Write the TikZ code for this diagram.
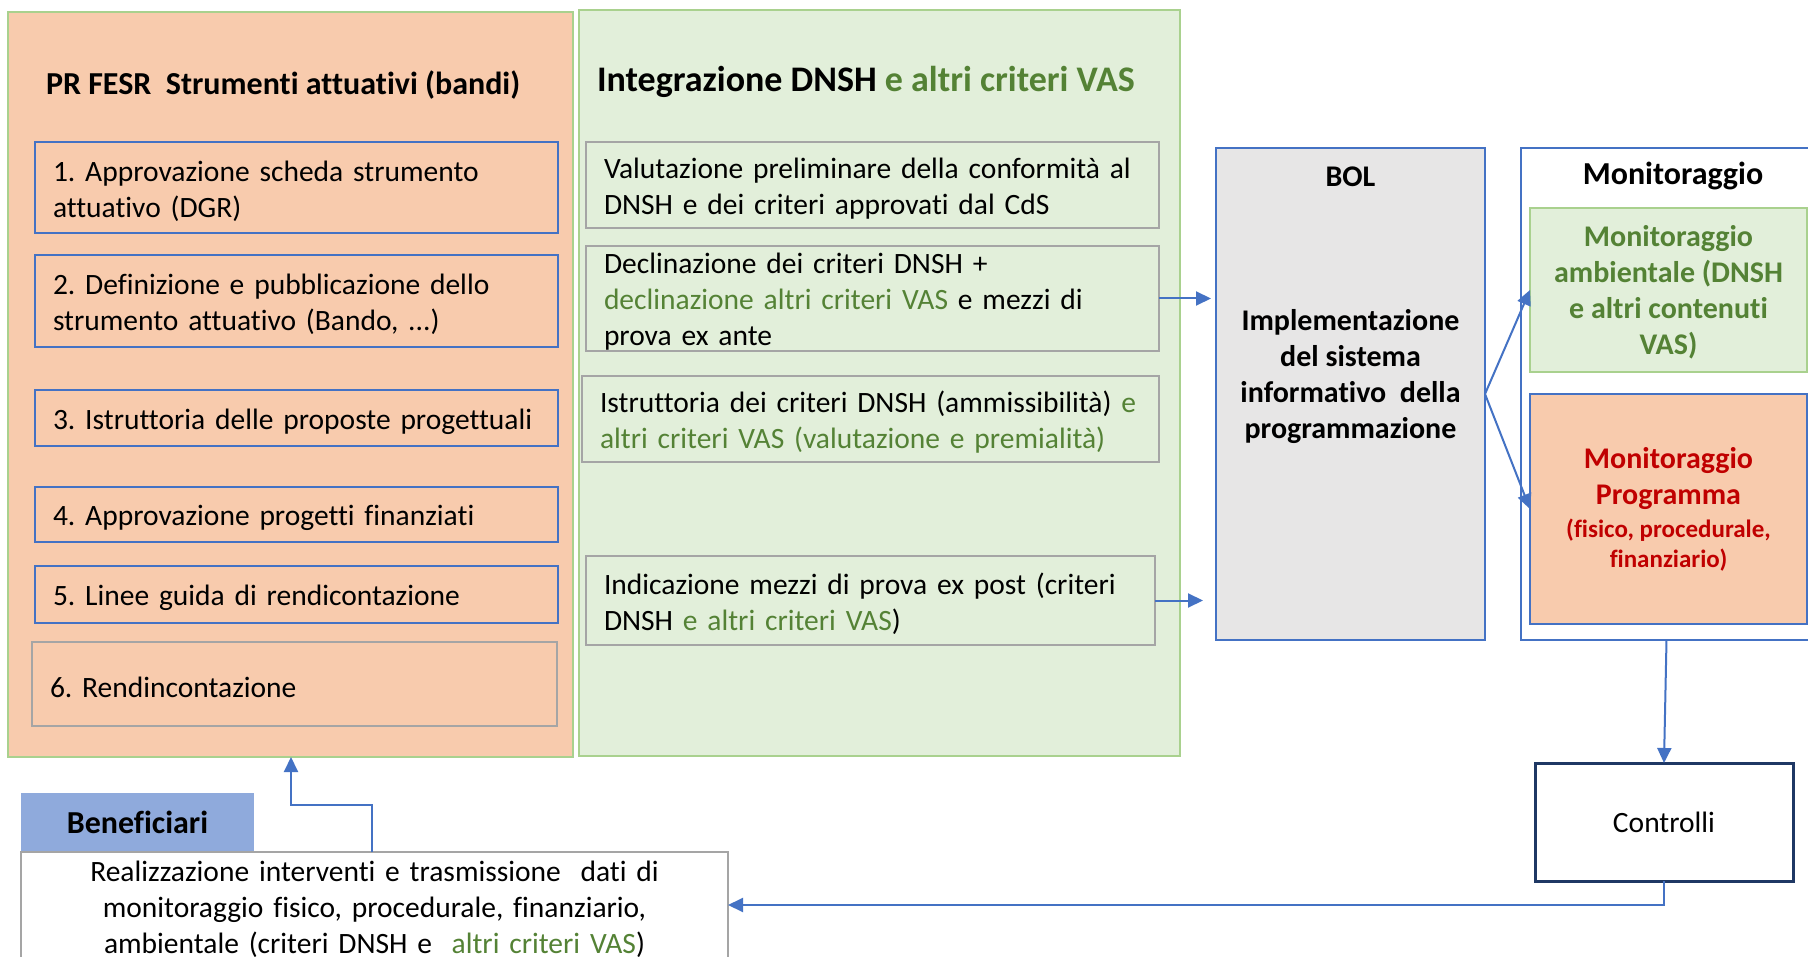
\documentclass[tikz,border=0pt]{standalone}
\usepackage{fontspec}
\setmainfont{Carlito}[Ligatures=NoCommon]
\usetikzlibrary{arrows.meta}
\definecolor{orfill}{HTML}{F8CBAD}
\definecolor{gfill}{HTML}{E2EFDA}
\definecolor{lgreen}{HTML}{A9D18E}
\definecolor{vgreen}{HTML}{548235}
\definecolor{myblue}{HTML}{4472C4}
\definecolor{mygray}{HTML}{A5A5A5}
\definecolor{myred}{HTML}{C00000}
\definecolor{bolgray}{HTML}{E7E6E6}
\definecolor{benblue}{HTML}{8FAADC}
\definecolor{navy}{HTML}{1F3864}
\newcommand{\fl}{\rule{0pt}{27.5pt}}
\begin{document}
\frenchspacing
\begin{tikzpicture}[x=1pt,y=-1pt,
  every node/.style={inner sep=0pt, outer sep=0pt},
  body/.style={font=\fontsize{29.5}{36}\selectfont},
  bodyb/.style={font=\fontsize{30}{36}\selectfont\bfseries},
  frame/.style={draw=lgreen, line width=1.5pt},
  bbox/.style={body, draw=myblue, line width=2pt, fill=orfill, inner xsep=18pt, align=left},
  gbox/.style={body, draw=mygray, line width=2pt, fill=gfill, inner xsep=18pt, align=left},
  arr/.style={draw=myblue, line width=2pt, -{Triangle[length=15pt,width=14pt]}}]
\clip (0,0) rectangle (1808,957);
\fill[white] (0,0) rectangle (1808,957);
% big frames
\node[frame, fill=orfill, minimum width=565pt, minimum height=745pt] (prfesr) at (290.5,384.5) {};
\node[frame, fill=gfill, minimum width=601pt, minimum height=746pt] (integ) at (879.5,383) {};
\node[anchor=west, font=\fontsize{32}{38}\selectfont\bfseries] (t1) at (46,85) {PR FESR\ \ Strumenti attuativi (bandi)};
\node[anchor=west, font=\fontsize{36}{42}\selectfont\bfseries] (t2) at (597,82) {Integrazione DNSH \textcolor{vgreen}{e altri criteri VAS}};
% left column
\node[bbox, minimum width=523pt, minimum height=91pt, text width=487pt] (b1) at (296.5,187.5) {\fl 1. Approvazione scheda strumento\\attuativo (DGR)};
\node[bbox, minimum width=523pt, minimum height=92pt, text width=487pt] (b2) at (296.5,301) {\fl 2. Definizione e pubblicazione dello\\strumento attuativo (Bando, ...)};
\node[bbox, minimum width=523pt, minimum height=56pt, text width=487pt] (b3) at (296.5,418) {\fl 3. Istruttoria delle proposte progettuali};
\node[bbox, minimum width=523pt, minimum height=55pt, text width=487pt] (b4) at (296.5,514.5) {\fl 4. Approvazione progetti finanziati};
\node[bbox, minimum width=523pt, minimum height=57pt, text width=487pt] (b5) at (296.5,594.5) {\fl 5. Linee guida di rendicontazione};
\node[bbox, draw=mygray, minimum width=525pt, minimum height=84pt, text width=489pt] (b6) at (294.5,684) {\fl 6. Rendincontazione};
% green column
\node[gbox, minimum width=573pt, minimum height=86pt, text width=537pt] (g1) at (872.5,185) {\fl Valutazione preliminare della conformità al\\DNSH e dei criteri approvati dal CdS};
\node[gbox, minimum width=573pt, minimum height=105pt, text width=537pt] (g2) at (872.5,298.5) {\fl Declinazione dei criteri DNSH +\\\textcolor{vgreen}{declinazione altri criteri VAS} e mezzi di\\prova ex ante};
\node[gbox, minimum width=577pt, minimum height=86pt, text width=541pt] (g3) at (870.5,419) {\fl Istruttoria dei criteri DNSH (ammissibilità) \textcolor{vgreen}{e}\\\textcolor{vgreen}{altri criteri VAS (valutazione e premialità)}};
\node[gbox, minimum width=569pt, minimum height=89pt, text width=533pt] (g4) at (870.5,600.5) {\fl Indicazione mezzi di prova ex post (criteri\\DNSH \textcolor{vgreen}{e altri criteri VAS})};
% BOL
\node[draw=myblue, line width=2pt, fill=bolgray, minimum width=269pt, minimum height=492pt] (bol) at (1350.5,394) {};
\node[bodyb] (boltitle) at (1350.5,177) {BOL};
\node[bodyb, align=center] (boltext) at (1350.5,377) {Implementazione\\del sistema\\informativo\ \ della\\programmazione};
% Monitoraggio
\node[draw=myblue, line width=2pt, fill=white, minimum width=291pt, minimum height=492pt] (mon) at (1666.5,394) {};
\node[font=\fontsize{32}{38}\selectfont\bfseries] (montitle) at (1673,176) {Monitoraggio};
\node[bodyb, draw=lgreen, line width=2pt, fill=gfill, text=vgreen, align=center, minimum width=277pt, minimum height=164pt] (mamb) at (1668.5,290) {\rule{0pt}{26pt}Monitoraggio\\ambientale (DNSH\\e altri contenuti\\VAS)};
\node[bodyb, draw=myblue, line width=2pt, fill=orfill, text=myred, align=center, minimum width=277pt, minimum height=230pt] (mprog) at (1668.5,509) {Monitoraggio\\Programma\\[-3pt]{\fontsize{25}{31}\selectfont (fisico, procedurale,}\\[-6pt]{\fontsize{25}{31}\selectfont finanziario)}};
% Controlli
\node[body, draw=navy, line width=3pt, fill=white, minimum width=258pt, minimum height=118pt] (ctrl) at (1664,822) {Controlli};
% Beneficiari
\node[font=\fontsize{32}{38}\selectfont\bfseries, fill=benblue, minimum width=233pt, minimum height=59pt] (benef) at (137.5,822.5) {Beneficiari};
\node[body, draw=mygray, line width=2pt, fill=white, anchor=north, minimum width=707pt, text width=707pt, align=center, inner ysep=9.5pt] (real) at (374.5,852) {Realizzazione interventi e trasmissione\ \ dati di\\monitoraggio fisico, procedurale, finanziario,\\ambientale (criteri DNSH e\ \ \textcolor{vgreen}{altri criteri VAS})};
% arrows
\draw[arr] (g2.east) -- ([xshift=-5pt]bol.west |- g2.east);
\draw[arr] (g4.east) -- ([xshift=-13pt]bol.west |- g4.east);
\draw[arr] (bol.east) -- (mamb.west);
\draw[arr] (bol.east) -- (mprog.west);
\draw[arr] (mon.south) -- (ctrl.north);
\coordinate (c1) at (1664,905);
\draw[arr] (ctrl.south) -- (c1) -- (real.east |- c1);
\coordinate (k1) at (372,805);
\coordinate (k2) at (291,805);
\draw[arr] (real.north -| k1) -- (k1) -- (k2) -- (k2 |- prfesr.south);
\end{tikzpicture}
\end{document}
